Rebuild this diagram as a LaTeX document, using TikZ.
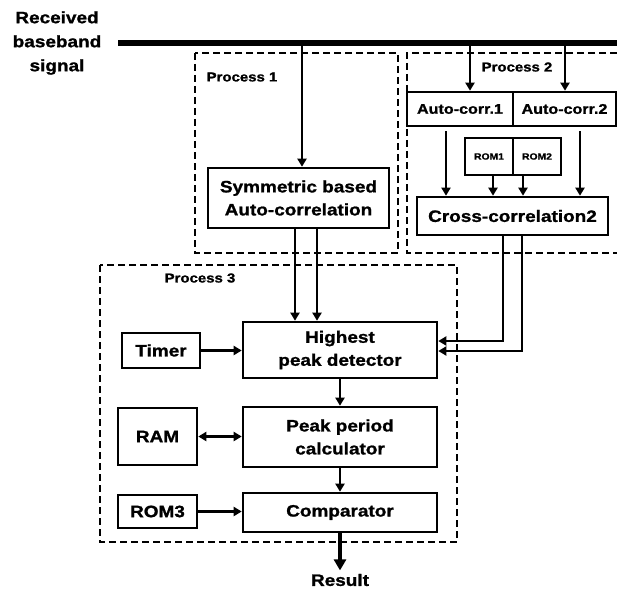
\documentclass[tikz,border=0pt]{standalone}
\usepackage{fontspec}
\setmainfont{Liberation Sans}[FakeStretch=1.15, BoldFeatures={FakeBold=1.2}]
\usetikzlibrary{arrows.meta}

\tikzset{
  block/.style={draw, line width=2.6pt, align=center, inner sep=0pt,
    font=\bfseries\fontsize{16.5}{23}\selectfont},
  smallblock/.style={block, font=\bfseries\fontsize{14}{18}\selectfont},
  tinyblock/.style={block, line width=2.2pt, font=\bfseries\fontsize{9}{11}\selectfont},
  procbox/.style={draw, dashed, line width=1.8pt, dash pattern=on 7pt off 4pt},
  proclabel/.style={font=\bfseries\fontsize{13}{15}\selectfont},
  arr/.style={line width=2.4pt, -{Triangle[length=8pt,width=9pt]}},
  darr/.style={line width=2.4pt, {Triangle[length=8pt,width=9pt]}-{Triangle[length=8pt,width=9pt]}}
}

\begin{document}
\begin{tikzpicture}[x=1pt,y=-1pt]
        \useasboundingbox (0,0) rectangle (617,588);

        \node[font=\bfseries\fontsize{16.5}{24}\selectfont, align=center] (input) at (57,43) {Received\\baseband\\signal};
        \coordinate (busL) at (118,43);
        \coordinate (busR) at (620,43);
        \draw[line width=6.5pt] (busL) -- (busR);

        \draw[procbox] (195,53) rectangle (398,253);
        \draw[procbox] (617,53) -- (407,53) -- (407,253) -- (617,253);
        \draw[procbox] (100,265) rectangle (457,542);
        \node[proclabel] (p1) at (242,77) {Process 1};
        \node[proclabel] (p2) at (517,67) {Process 2};
        \node[proclabel] (p3) at (200,278) {Process 3};

        \node[block, minimum width=181pt, minimum height=60pt] (sym) at (298.5,198) {Symmetric based\\Auto-correlation};

        \node[smallblock, minimum width=106pt, minimum height=34pt] (ac1) at (460,109) {Auto-corr.1};
        \node[smallblock, minimum width=103pt, minimum height=34pt] (ac2) at (564.5,109) {Auto-corr.2};
        \node[tinyblock, minimum width=48pt, minimum height=37pt] (rom1) at (489,156.5) {ROM1};
        \node[tinyblock, minimum width=48pt, minimum height=37pt] (rom2) at (537,156.5) {ROM2};
        \node[block, minimum width=191pt, minimum height=38pt] (cross) at (512.5,216) {Cross-correlation2};

        \node[block, minimum width=194pt, minimum height=56pt] (high) at (340,350) {Highest\\peak detector};
        \node[block, minimum width=78pt, minimum height=35pt] (timer) at (161,350.5) {Timer};
        \node[block, minimum width=194pt, minimum height=60pt] (peak) at (340,437) {Peak period\\calculator};
        \node[block, minimum width=79pt, minimum height=57pt] (ram) at (157.5,436.5) {RAM};
        \node[block, minimum width=194pt, minimum height=39pt] (comp) at (340,512.5) {Comparator};
        \node[block, minimum width=79pt, minimum height=33pt] (rom3) at (157.5,511.5) {ROM3};
        \node[font=\bfseries\fontsize{16.5}{20}\selectfont] (result) at (340,580) {Result};

        \coordinate (tap1) at (302,43);
        \coordinate (tap2) at (470,43);
        \coordinate (tap3) at (565,43);
        \draw[arr] (tap1) -- (tap1 |- sym.north);
        \draw[arr] (tap2) -- (tap2 |- ac1.north);
        \draw[arr] (tap3) -- (tap3 |- ac2.north);

        \draw[arr, line width=1.8pt] ([xshift=-14pt,yshift=-4pt]ac1.south) -- ([xshift=-14pt]ac1.south |- cross.north);
        \draw[arr] ([xshift=15.5pt,yshift=-4pt]ac2.south) -- ([xshift=15.5pt]ac2.south |- cross.north);
        \draw[arr] ([xshift=4pt]rom1.south) -- ([xshift=4pt]rom1.south |- cross.north);
        \draw[arr] ([xshift=-14pt]rom2.south) -- ([xshift=-14pt]rom2.south |- cross.north);

        \draw[arr] ([xshift=-3.5pt]sym.south) -- ([xshift=-3.5pt]sym.south |- high.north);
        \draw[arr] ([xshift=18.5pt]sym.south) -- ([xshift=18.5pt]sym.south |- high.north);
        \draw[arr] ([xshift=-9.5pt]cross.south) |- ([yshift=9pt]high.east);
        \draw[arr] ([xshift=9.5pt]cross.south) |- ([yshift=-1pt]high.east);

        \draw[arr] (timer.east) -- (timer.east -| high.west);
        \draw[arr] (high.south) -- (peak.north);
        \draw[darr] (ram.east) -- (ram.east -| peak.west);
        \draw[arr] (peak.south) -- (comp.north);
        \draw[arr] (rom3.east) -- (rom3.east -| comp.west);
        \draw[line width=4pt, -{Triangle[length=11pt,width=12pt]}] (comp.south) -- (result.north);
    \end{tikzpicture}
\end{document}
